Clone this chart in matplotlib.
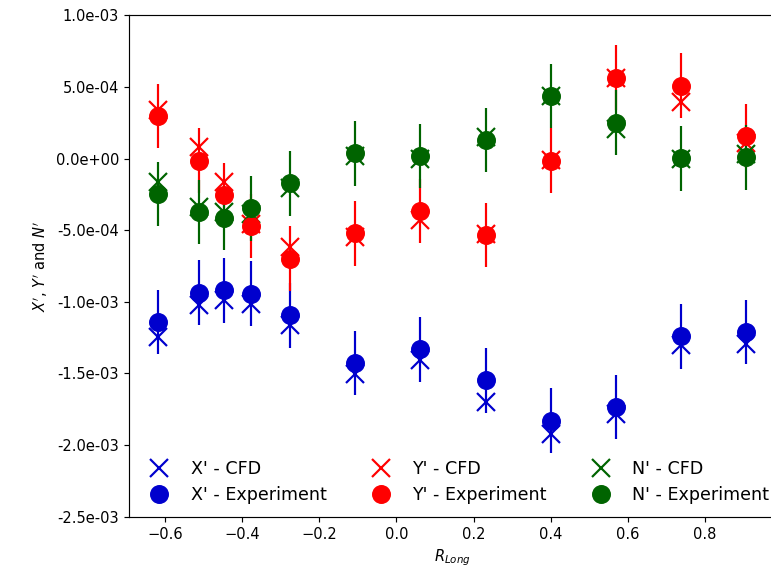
import matplotlib
matplotlib.use('Agg')
import matplotlib.pyplot as plt
from matplotlib.ticker import FormatStrFormatter

r_long = [-0.617, -0.512, -0.447, -0.377, -0.275, -0.107, 0.061, 0.231, 0.401, 0.568, 0.738, 0.906]

# values in 1e-3
x_cfd = [-1.246, -1.024, -0.990, -1.017, -1.164, -1.502, -1.409, -1.700, -1.922, -1.782, -1.304, -1.292]
x_exp = [-1.141, -0.936, -0.920, -0.943, -1.094, -1.428, -1.332, -1.549, -1.829, -1.736, -1.241, -1.211]
y_cfd = [0.340, 0.080, -0.164, -0.460, -0.620, -0.547, -0.430, -0.530, -0.010, 0.565, 0.397, 0.106]
y_exp = [0.297, -0.015, -0.255, -0.470, -0.698, -0.523, -0.367, -0.535, -0.015, 0.565, 0.509, 0.157]
n_cfd = [-0.164, -0.340, -0.370, -0.386, -0.206, 0.020, 0.000, 0.152, 0.440, 0.204, 0.000, 0.030]
n_exp = [-0.248, -0.372, -0.414, -0.348, -0.174, 0.036, 0.017, 0.129, 0.437, 0.251, 0.001, 0.008]
exp_err = [0.225] * 12

series = [
    ("X'", x_cfd, x_exp, 'mediumblue'),
    ("Y'", y_cfd, y_exp, 'red'),
    ("N'", n_cfd, n_exp, 'darkgreen'),
]

dpi = 105
fig = plt.figure(figsize=(771 / dpi, 577 / dpi), dpi=dpi)
ax = fig.add_axes([129.3 / 771, 60.3 / 577, (775.4 - 129.3) / 771, (516.7 - 15.3) / 577])

handles = []
for name, cfd, exp, col in series:
    h1, = ax.plot(r_long, [v * 1e-3 for v in cfd], 'x', color=col, ms=12, mew=1.5,
                  label=name + ' - CFD')
    h2 = ax.errorbar(r_long, [v * 1e-3 for v in exp], yerr=[e * 1e-3 for e in exp_err],
                     fmt='o', color=col, ms=12, label=name + ' - Experiment')
    handles += [h1, h2]

ax.set_xlim(-0.692, 0.982)
ax.set_ylim(-2.5e-3, 1.0e-3)
ax.spines['right'].set_visible(False)  # cut off in the original image
ax.yaxis.set_major_formatter(FormatStrFormatter('%.1e'))
ax.set_xlabel(r'$R_{Long}$')
ax.set_ylabel(r"$X'$, $Y'$ and $N'$")
ax.legend(handles=handles, ncol=3, loc='lower left', frameon=False, fontsize=12,
          handletextpad=0.8, columnspacing=2.1, borderaxespad=0.3)

fig.savefig('out.png', dpi=dpi)
